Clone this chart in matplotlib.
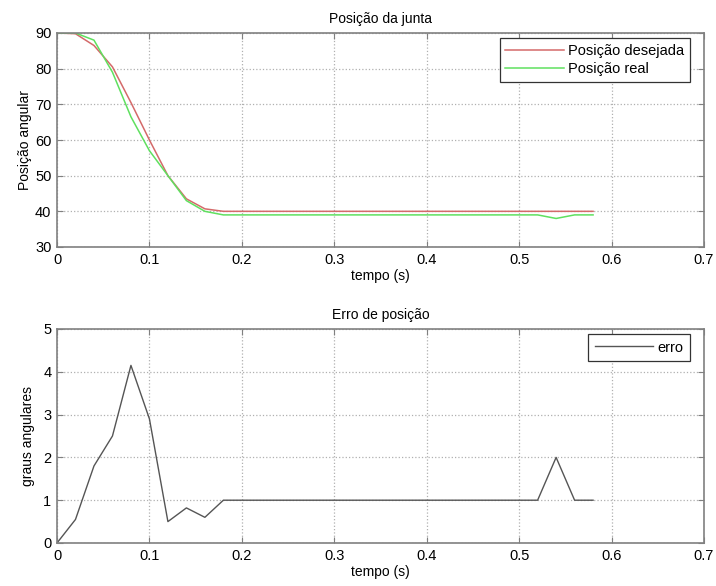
import matplotlib.pyplot as plt
import numpy as np

plt.rcParams["font.family"] = ["Liberation Sans", "DejaVu Sans"]
plt.rcParams["font.size"] = 9.5

# sample times (s)
t = np.arange(30) * 0.02

pos_desejada = [90, 89.8, 86.5, 80.5, 70.5, 60, 50, 43.5, 40.7, 40,
                40, 40, 40, 40, 40, 40, 40, 40, 40, 40,
                40, 40, 40, 40, 40, 40, 40, 40, 40, 40]
pos_real = [90, 90, 88, 79, 66.5, 57, 50, 43, 40, 39,
            39, 39, 39, 39, 39, 39, 39, 39, 39, 39,
            39, 39, 39, 39, 39, 39, 39, 38, 39, 39]
erro = [0, 0.55, 1.8, 2.5, 4.15, 2.9, 0.5, 0.82, 0.6, 1,
        1, 1, 1, 1, 1, 1, 1, 1, 1, 1,
        1, 1, 1, 1, 1, 1, 1, 2, 1, 1]

fig = plt.figure(figsize=(7.16, 5.86), dpi=100)
ax1 = fig.add_axes([57 / 716, 1 - 247 / 586, 647 / 716, 214 / 586])
ax2 = fig.add_axes([57 / 716, 1 - 543 / 586, 647 / 716, 214 / 586])


def estilo(ax):
    ax.set_xlim(0, 0.7)
    ax.set_xticks(np.arange(0, 0.71, 0.1))
    ax.set_xticklabels(["0", "0.1", "0.2", "0.3", "0.4", "0.5", "0.6", "0.7"])
    ax.grid(True, linestyle=":", color="#b0b0b0", linewidth=0.9)
    ax.tick_params(direction="in", top=True, right=True, length=4,
                   color="#808080", labelsize=10.5, pad=4)
    for s in ax.spines.values():
        s.set_color("#808080")
        s.set_linewidth(1.2)
    ax.set_xlabel("tempo (s)", fontsize=10, labelpad=2)


def legenda(ax, dx, dy, **kw):
    # legend anchored a few pixels inside the upper-right corner
    w, h = 647, 214
    leg = ax.legend(loc="upper right", bbox_to_anchor=(1 - dx / w, 1 - dy / h),
                    fontsize=10.5, fancybox=False, framealpha=1,
                    edgecolor="#333333", borderaxespad=0, handlelength=4,
                    handletextpad=0.3, **kw)
    leg.get_frame().set_linewidth(0.9)
    return leg


ax1.plot(t, pos_desejada, color="#d46a6a", lw=1.1, label="Posição desejada")
ax1.plot(t, pos_real, color="#5fe05f", lw=1.1, label="Posição real")
ax1.set_ylim(30, 90)
ax1.set_yticks(range(30, 91, 10))
estilo(ax1)
ax1.set_ylabel("Posição angular", fontsize=10, labelpad=2)
ax1.set_title("Posição da junta", fontsize=10, pad=7)
legenda(ax1, 14, 5, borderpad=0.4, labelspacing=0.3)

ax2.plot(t, erro, color="#555555", lw=1.0, label="erro")
ax2.set_ylim(0, 5)
ax2.set_yticks(range(0, 6))
estilo(ax2)
ax2.set_ylabel("graus angulares", fontsize=10, labelpad=6)
ax2.set_title("Erro de posição", fontsize=10, pad=7)
legenda(ax2, 14, 5, borderpad=0.45)

fig.savefig("out.png", dpi=100)
